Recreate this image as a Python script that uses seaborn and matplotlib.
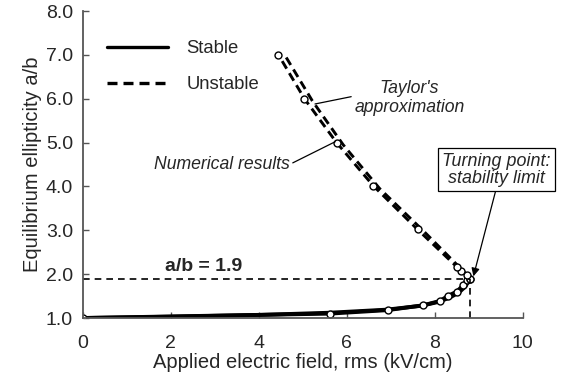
import matplotlib
matplotlib.use("Agg")
import matplotlib.pyplot as plt
import seaborn as sns
import pandas as pd
from matplotlib.lines import Line2D

# ---- data ----
num_stable_x = [0.0, 5.61, 6.93, 7.74, 8.12, 8.31, 8.50, 8.65, 8.73, 8.80]
num_stable_y = [1.00, 1.10, 1.18, 1.29, 1.39, 1.51, 1.60, 1.75, 1.87, 1.90]
tay_stable_x = [0.0, 2.0, 4.0, 5.6, 6.9, 7.7, 8.1, 8.35, 8.55, 8.7, 8.8]
tay_stable_y = [1.00, 1.03, 1.07, 1.12, 1.19, 1.28, 1.37, 1.47, 1.58, 1.72, 1.90]

num_unstable_x = [8.80, 8.73, 8.60, 8.50, 7.61, 6.60, 5.77, 5.04, 4.45]
num_unstable_y = [1.90, 1.98, 2.08, 2.17, 3.02, 4.02, 5.00, 6.00, 7.00]
tay_unstable_x = [8.80, 8.70, 8.60, 7.75, 6.75, 5.92, 5.22, 4.62]
tay_unstable_y = [1.90, 2.02, 2.12, 2.98, 3.95, 4.95, 5.95, 6.95]

turn_x = 8.8
turn_y = 1.9

x_ticks = [0, 2, 4, 6, 8, 10]
y_ticks = [1.0, 2.0, 3.0, 4.0, 5.0, 6.0, 7.0, 8.0]

sns.set_style("ticks")
plt.rcParams['font.family'] = ['Liberation Sans', 'DejaVu Sans']

fig = plt.figure(figsize=(5.68, 3.82), dpi=100)
ax = fig.add_axes([0.1456, 0.1675, 0.7746, 0.8037])

lw_s = 2.8
lw_d = 2.1
dash = (3.0, 1.8)

def frame(x, y):
    return pd.DataFrame({"x": x, "y": y})

sns.lineplot(data=frame(tay_stable_x, tay_stable_y), x="x", y="y", sort=False,
             estimator=None, color="black", lw=lw_s, ax=ax)
sns.lineplot(data=frame(num_stable_x, num_stable_y), x="x", y="y", sort=False,
             estimator=None, color="black", lw=lw_s, marker="o", markersize=5,
             markerfacecolor="white", markeredgecolor="black", markeredgewidth=1.0, ax=ax)
sns.lineplot(data=frame(tay_unstable_x, tay_unstable_y), x="x", y="y", sort=False,
             estimator=None, color="black", lw=lw_d, ax=ax)
ax.lines[-1].set_dashes(dash)
sns.lineplot(data=frame(num_unstable_x, num_unstable_y), x="x", y="y", sort=False,
             estimator=None, color="black", lw=lw_d, marker="o", markersize=5,
             markerfacecolor="white", markeredgecolor="black", markeredgewidth=1.0, ax=ax)
ax.lines[-1].set_dashes(dash)

# reference dashed lines
ax.plot([0, turn_x], [turn_y, turn_y], color="black", lw=1.2, dashes=(4, 3))
ax.plot([turn_x, turn_x], [1.0, turn_y], color="black", lw=1.2, dashes=(4, 3))

ax.set_xlim(0, 10)
ax.set_ylim(1, 8)
ax.set_xticks(x_ticks)
ax.set_yticks(y_ticks)
ax.set_yticklabels([f"{v:.1f}" for v in y_ticks])
ax.tick_params(direction="in", length=4, width=1.0, labelsize=14, color="#555555")
ax.tick_params(axis="x", pad=12)
ax.tick_params(axis="y", pad=7)
for s in ["left", "bottom"]:
    ax.spines[s].set_color("#555555")
    ax.spines[s].set_linewidth(1.3)
sns.despine(ax=ax)
ax.set_xlabel("Applied electric field, rms (kV/cm)", fontsize=14.5, labelpad=1)
ax.set_ylabel("Equilibrium ellipticity a/b", fontsize=14.5, labelpad=3)

# legend
handles = [Line2D([], [], color="black", lw=2.4),
           Line2D([], [], color="black", lw=2.4, dashes=(3, 1.8))]
ax.legend(handles, ["Stable", "Unstable"], loc="upper left", bbox_to_anchor=(0.055, 0.905),
          frameon=False, fontsize=13.3, handlelength=3.3, handletextpad=1.0,
          labelspacing=1.02, borderpad=0, borderaxespad=0)

# annotations
ax.annotate("Taylor's\napproximation", xy=(5.28, 5.88), xytext=(7.43, 6.02),
            ha="center", va="center", fontsize=12.7, style="italic",
            arrowprops=dict(arrowstyle="-", color="black", lw=0.9, shrinkA=0, shrinkB=0,
                            relpos=(0.0, 0.55)))
ax.annotate("Numerical results", xy=(5.74, 5.02), xytext=(4.70, 4.5),
            ha="right", va="center", fontsize=12.7, style="italic",
            arrowprops=dict(arrowstyle="-", color="black", lw=0.9, shrinkA=0, shrinkB=0,
                            relpos=(1.0, 0.5)))
ax.annotate("Turning point:\nstability limit", xy=(8.88, 1.95), xytext=(9.41, 4.38),
            ha="center", va="center", fontsize=12.9, style="italic", annotation_clip=False,
            linespacing=1.0,
            bbox=dict(boxstyle="square,pad=0.25", fc="white", ec="black", lw=0.9),
            arrowprops=dict(arrowstyle="-|>", color="black", lw=0.9, shrinkA=0, shrinkB=0,
                            mutation_scale=12, relpos=(0.5, 0.0)))
ax.text(2.75, 2.17, "a/b = 1.9", ha="center", va="center", fontsize=14, fontweight="bold")

fig.savefig("out.png", dpi=100)
